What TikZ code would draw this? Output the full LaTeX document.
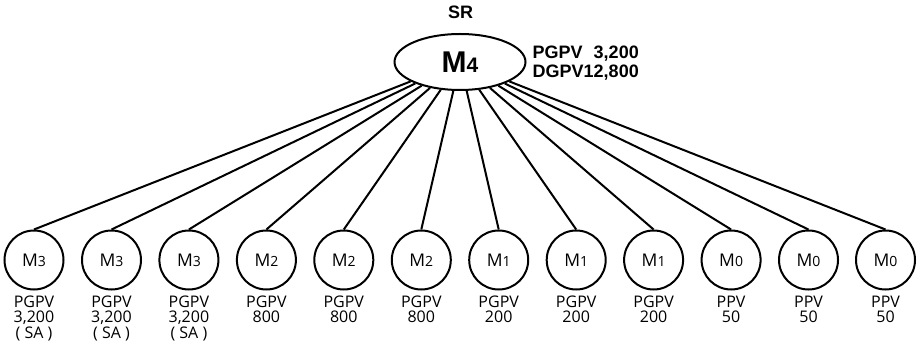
\documentclass[tikz,border=0pt]{standalone}
\usepackage{fontspec}
\setmainfont{Open Sans}
\newfontfamily\arialfont{Liberation Sans}
\usepackage{tikz}
\usetikzlibrary{positioning}
\usetikzlibrary{shapes.geometric}
\newcommand{\mlev}[1]{{\fontsize{17.5}{17.5}\selectfont M}{\fontsize{14}{14}\selectfont #1}}

\begin{document}
\begin{tikzpicture}[x=1pt,y=1pt,
		module/.style={circle, draw, line width=2pt, minimum size=59pt, inner sep=0pt},
		info/.style={inner sep=0pt, align=center, font=\fontsize{16}{15.5}\selectfont},
		link/.style={line width=2pt}]
		\useasboundingbox (0,0) rectangle (917,345);

		% Root module
		\node (M4) at (460,283) [ellipse, draw, line width=2pt, minimum width=131pt, minimum height=56pt, inner sep=0pt] {\arialfont\bfseries{\fontsize{30}{30}\selectfont M}{\fontsize{21}{21}\selectfont 4}};
		\node (SR) at (460.5,333) {\arialfont\bfseries\fontsize{18}{18}\selectfont SR};
		\node[right=6pt of M4, inner sep=0pt, yshift=-2pt] (M4_label) {\arialfont\bfseries\fontsize{18}{19}\selectfont
			\begin{tabular}{@{}l@{}r@{}}PGPV&3,200\\DGPV&12,800\end{tabular}};

		% M3 modules
		\node[module] (M3_a) at (34,85) {\mlev{3}};
		\node[info, below=5pt of M3_a] (M3_a_label) {PGPV\\3,200\\( SA )};
		\node[module] (M3_b) at (111.5,85) {\mlev{3}};
		\node[info, below=5pt of M3_b] (M3_b_label) {PGPV\\3,200\\( SA )};
		\node[module] (M3_c) at (188.9,85) {\mlev{3}};
		\node[info, below=5pt of M3_c] (M3_c_label) {PGPV\\3,200\\( SA )};

		% M2 modules
		\node[module] (M2_a) at (266.4,85) {\mlev{2}};
		\node[info, below=5pt of M2_a] (M2_a_label) {PGPV\\800};
		\node[module] (M2_b) at (343.8,85) {\mlev{2}};
		\node[info, below=5pt of M2_b] (M2_b_label) {PGPV\\800};
		\node[module] (M2_c) at (421.3,85) {\mlev{2}};
		\node[info, below=5pt of M2_c] (M2_c_label) {PGPV\\800};

		% M1 modules
		\node[module] (M1_a) at (498.7,85) {\mlev{1}};
		\node[info, below=5pt of M1_a] (M1_a_label) {PGPV\\200};
		\node[module] (M1_b) at (576.2,85) {\mlev{1}};
		\node[info, below=5pt of M1_b] (M1_b_label) {PGPV\\200};
		\node[module] (M1_c) at (653.6,85) {\mlev{1}};
		\node[info, below=5pt of M1_c] (M1_c_label) {PGPV\\200};

		% M0 modules
		\node[module] (M0_a) at (731.1,85) {\mlev{0}};
		\node[info, below=5pt of M0_a] (M0_a_label) {PPV\\50};
		\node[module] (M0_b) at (808.5,85) {\mlev{0}};
		\node[info, below=5pt of M0_b] (M0_b_label) {PPV\\50};
		\node[module] (M0_c) at (885.5,85) {\mlev{0}};
		\node[info, below=5pt of M0_c] (M0_c_label) {PPV\\50};

		% Links from the root
		\draw[link] (M4) -- (M3_a.north);
		\draw[link] (M4) -- (M3_b.north);
		\draw[link] (M4) -- (M3_c.north);
		\draw[link] (M4) -- (M2_a.north);
		\draw[link] (M4) -- (M2_b.north);
		\draw[link] (M4) -- (M2_c.north);
		\draw[link] (M4) -- (M1_a.north);
		\draw[link] (M4) -- (M1_b.north);
		\draw[link] (M4) -- (M1_c.north);
		\draw[link] (M4) -- (M0_a.north);
		\draw[link] (M4) -- (M0_b.north);
		\draw[link] (M4) -- (M0_c.north);
	\end{tikzpicture}
\end{document}
